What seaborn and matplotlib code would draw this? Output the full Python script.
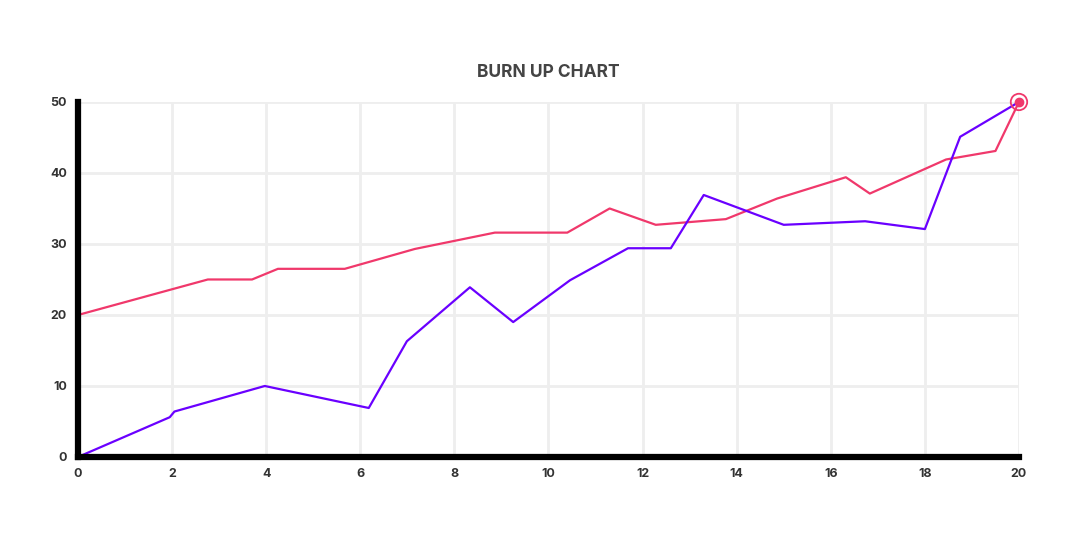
import numpy as np
import pandas as pd
import matplotlib.pyplot as plt
import seaborn as sns

# scope line (red)
scope_x = [0, 2.76, 3.7, 4.25, 5.67, 7.16, 8.86, 10.4, 11.3, 12.28, 13.77, 14.86, 16.32, 16.83, 18.45, 19.5, 20]
scope_y = [20, 25, 25, 26.5, 26.5, 29.3, 31.6, 31.6, 35, 32.7, 33.5, 36.4, 39.4, 37.1, 41.9, 43.1, 50]

# completed work (purple)
done_x = [0, 1.95, 2.05, 3.97, 6.18, 6.99, 8.33, 9.25, 10.46, 11.69, 12.6, 13.3, 15.0, 16.73, 18.0, 18.75, 20]
done_y = [0, 5.6, 6.4, 10, 6.9, 16.3, 23.9, 19.0, 24.9, 29.4, 29.4, 36.9, 32.7, 33.2, 32.1, 45.1, 50]

x_ticks = list(range(0, 21, 2))
y_ticks = list(range(0, 51, 10))

red = '#f0386b'
purple = '#6a00ff'

sns.set_theme(style='white')
plt.rcParams['font.family'] = ['Inter', 'DejaVu Sans']

fig = plt.figure(figsize=(10.8, 5.41), dpi=100)
ax = fig.add_axes([0.0722, 0.1553, 0.8713, 0.6562])

scope = pd.DataFrame({'x': scope_x, 'y': scope_y})
done = pd.DataFrame({'x': done_x, 'y': done_y})

sns.lineplot(data=scope, x='x', y='y', color=red, linewidth=1.6, sort=False, ax=ax, zorder=3, clip_on=False)
sns.lineplot(data=done, x='x', y='y', color=purple, linewidth=1.6, sort=False, ax=ax, zorder=4, clip_on=False)

# end marker
ax.scatter([scope_x[-1]], [scope_y[-1]], s=140, facecolor='none', edgecolor=red, linewidth=1.3, zorder=5, clip_on=False)
ax.scatter([scope_x[-1]], [scope_y[-1]], s=36, color=red, zorder=6, clip_on=False)

ax.set_xlim(0, 20)
ax.set_ylim(0, 50)
ax.set_xticks(x_ticks)
ax.set_yticks(y_ticks)
ax.grid(True, color='#eeeeee', linewidth=2)
ax.set_axisbelow(True)

for s in ['top', 'right']:
    ax.spines[s].set_visible(False)
for s in ['left', 'bottom']:
    ax.spines[s].set_color('black')
    ax.spines[s].set_linewidth(4.5)
    ax.spines[s].set_zorder(7)

ax.tick_params(length=0, labelsize=9, labelcolor='#333333', pad=8)
for lab in ax.get_xticklabels() + ax.get_yticklabels():
    lab.set_fontweight('bold')
ax.set_xlabel('')
ax.set_ylabel('')
ax.set_title('BURN UP CHART', fontsize=12.5, fontweight='bold', color='#444444', pad=18)

fig.savefig('out.png', dpi=100)
